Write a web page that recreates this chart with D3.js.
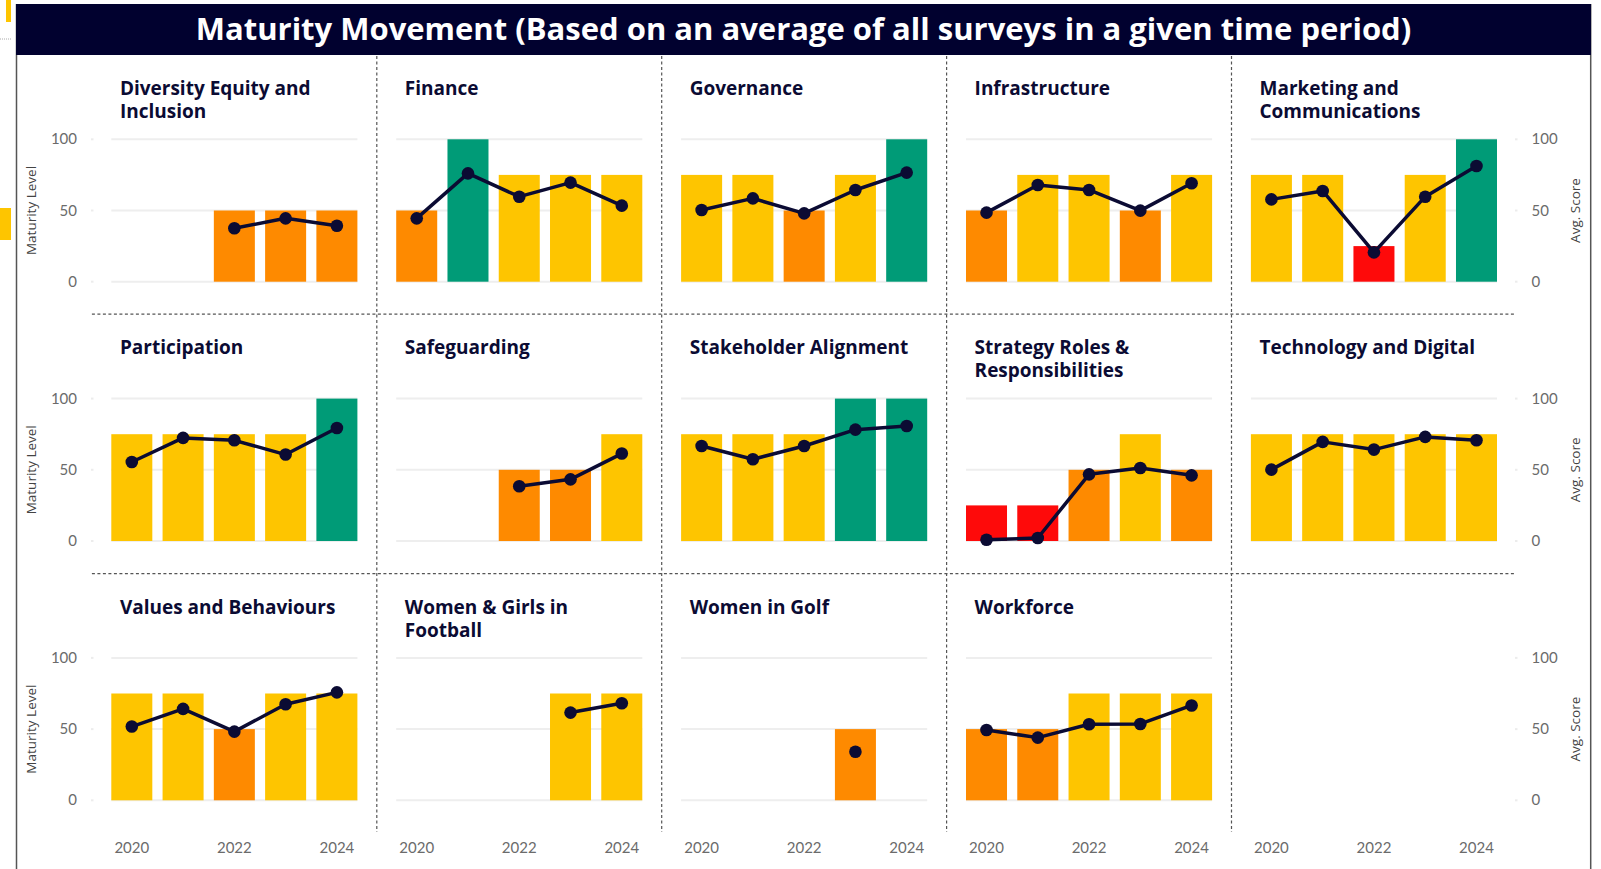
<!DOCTYPE html>
<html>
<head>
<meta charset="utf-8">
<script src="https://cdn.jsdelivr.net/npm/d3@7"></script>
<style>
  html, body { margin: 0; padding: 0; background: #ffffff; }
  svg { display: block; }
</style>
</head>
<body>
<script>
// Survey periods shown on every panel
const years = [2020, 2021, 2022, 2023, 2024];

// One small multiple per area
const categories = [
  "Diversity Equity and Inclusion", "Finance", "Governance", "Infrastructure",
  "Marketing and Communications", "Participation", "Safeguarding",
  "Stakeholder Alignment", "Strategy Roles & Responsibilities",
  "Technology and Digital", "Values and Behaviours",
  "Women & Girls in Football", "Women in Golf", "Workforce"
];

// Maturity level band reached in each year (bars); null = no surveys
const maturityLevel = [
  [null, null, 50, 50, 50],
  [50, 100, 75, 75, 75],
  [75, 75, 50, 75, 100],
  [50, 75, 75, 50, 75],
  [75, 75, 25, 75, 100],
  [75, 75, 75, 75, 100],
  [null, null, 50, 50, 75],
  [75, 75, 75, 100, 100],
  [25, 25, 50, 75, 50],
  [75, 75, 75, 75, 75],
  [75, 75, 50, 75, 75],
  [null, null, null, 75, 75],
  [null, null, null, 50, null],
  [50, 50, 75, 75, 75]
];

// Average survey score in each year (line)
const avgScore = [
  [null, null, 37.5, 44.5, 39.3],
  [44.5, 76.1, 59.7, 69.6, 53.4],
  [50.4, 58.5, 48.0, 64.4, 76.6],
  [48.5, 67.9, 64.4, 49.9, 69.1],
  [57.8, 63.7, 20.6, 59.7, 81.3],
  [55.5, 72.4, 70.7, 60.7, 79.4],
  [null, null, 38.4, 43.3, 61.4],
  [66.7, 57.4, 66.7, 78.2, 80.8],
  [0.9, 2.1, 46.8, 51.3, 46.1],
  [50.1, 69.6, 64.2, 73.1, 70.7],
  [51.8, 64.2, 48.2, 67.5, 75.8],
  [null, null, null, 61.6, 68.2],
  [null, null, null, 34.1, null],
  [49.4, 44.0, 53.4, 53.6, 66.6]
];

const yTicks = [0, 50, 100];
const xTickYears = [2020, 2022, 2024];

const chartTitle = "Maturity Movement (Based on an average of all surveys in a given time period)";
const leftAxisTitle = "Maturity Level";
const rightAxisTitle = "Avg. Score";

// ---- layout ----
const W = 1601, H = 869;
const nCols = 5, nRows = 3;
const gridX0 = 91.9, cellW = 284.9, cellPad = 19.4;
const rowPitch = 259.3;
const plotTop0 = 139.3, plotBottom0 = 281.7;   // y of 100 and 0 in the first row
const headFont = "'Open Sans', 'Noto Sans', sans-serif";
const tickFont = "Lato, 'Open Sans', sans-serif";

const levelColor = d3.scaleOrdinal()
  .domain([25, 50, 75, 100])
  .range(["#fe0a0a", "#fe8a00", "#fec500", "#009b77"]);

const ink = "#0b0b33";
const tickColor = "#6b6b6b";

const svg = d3.select("body").append("svg")
  .attr("width", W).attr("height", H)
  .style("font-family", headFont);

// page furniture at the left edge
svg.append("rect").attr("x", 6).attr("y", 0).attr("width", 5).attr("height", 22).attr("fill", "#fec500");
svg.append("line").attr("x1", 0).attr("x2", 11).attr("y1", 39).attr("y2", 39)
  .attr("stroke", "#aaaaaa").attr("stroke-dasharray", "1,1");
svg.append("rect").attr("x", 0).attr("y", 208).attr("width", 11).attr("height", 32).attr("fill", "#fec500");

// visual frame
svg.append("line").attr("x1", 16.5).attr("x2", 16.5).attr("y1", 4).attr("y2", H)
  .attr("stroke", "#555555").attr("stroke-width", 1.5);
svg.append("line").attr("x1", 1590.7).attr("x2", 1590.7).attr("y1", 4).attr("y2", H)
  .attr("stroke", "#555555").attr("stroke-width", 1.5);

// title bar
svg.append("rect").attr("x", 16).attr("y", 4).attr("width", 1575).attr("height", 51)
  .attr("fill", "#01012f");
svg.append("text")
  .attr("x", 803.5).attr("y", 39.5)
  .attr("text-anchor", "middle")
  .attr("fill", "#ffffff")
  .attr("font-weight", 700)
  .attr("font-size", 31)
  .text(chartTitle);

// shared scales
const y = d3.scaleLinear().domain([0, 100]).range([plotBottom0, plotTop0]);

// dashed cell dividers
const dividers = svg.append("g")
  .attr("stroke", "#555555").attr("stroke-width", 1.2).attr("stroke-dasharray", "3,2.5");
d3.range(1, nCols).forEach(c => {
  const x = gridX0 + c * cellW;
  dividers.append("line").attr("x1", x).attr("x2", x).attr("y1", 56).attr("y2", 832);
});
d3.range(1, nRows).forEach(r => {
  const yy = 314.2 + (r - 1) * 259.5;
  dividers.append("line").attr("x1", gridX0).attr("x2", gridX0 + nCols * cellW).attr("y1", yy).attr("y2", yy);
});

// wrap a title into lines no wider than maxW
function wrapTitle(textSel, str, maxW, lineH) {
  const words = str.split(" ");
  let line = [];
  let tspan = textSel.append("tspan").attr("x", textSel.attr("x")).attr("dy", 0);
  words.forEach(w => {
    line.push(w);
    tspan.text(line.join(" "));
    if (tspan.node().getComputedTextLength() > maxW && line.length > 1) {
      line.pop();
      tspan.text(line.join(" "));
      line = [w];
      tspan = textSel.append("tspan").attr("x", textSel.attr("x")).attr("dy", lineH).text(w);
    }
  });
}

// x axis labels under the bottom row
const xAxisG = svg.append("g").attr("font-family", tickFont);
for (let c = 0; c < nCols; c++) {
  const cellX = gridX0 + c * cellW;
  const x = d3.scaleBand().domain(years)
    .range([cellX + cellPad, cellX + cellW - cellPad])
    .paddingInner(0.2).paddingOuter(0);
  xTickYears.forEach(yr => {
    xAxisG.append("text").attr("x", x(yr) + x.bandwidth() / 2).attr("y", 853)
      .attr("text-anchor", "middle").attr("fill", tickColor).attr("font-size", 15)
      .text(yr);
  });
}

for (let r = 0; r < nRows; r++) {
  const rowG = svg.append("g").attr("transform", `translate(0,${r * rowPitch})`);

  // left axis (first column)
  yTicks.forEach(t => {
    rowG.append("text").attr("x", 77).attr("y", y(t) + 5)
      .attr("text-anchor", "end").attr("fill", tickColor).attr("font-size", 15)
      .attr("font-family", tickFont)
      .text(t);
    rowG.append("line").attr("x1", 91).attr("x2", 93.5).attr("y1", y(t)).attr("y2", y(t))
      .attr("stroke", "#ececec").attr("stroke-width", 2);
  });
  rowG.append("text")
    .attr("transform", `translate(36,${(y(0) + y(100)) / 2}) rotate(-90)`)
    .attr("text-anchor", "middle").attr("fill", "#444444").attr("font-size", 13.5)
    .text(leftAxisTitle);

  // right axis (last column)
  yTicks.forEach(t => {
    rowG.append("text").attr("x", 1531.5).attr("y", y(t) + 5)
      .attr("text-anchor", "start").attr("fill", tickColor).attr("font-size", 15)
      .attr("font-family", tickFont)
      .text(t);
    rowG.append("line").attr("x1", 1515).attr("x2", 1517.5).attr("y1", y(t)).attr("y2", y(t))
      .attr("stroke", "#ececec").attr("stroke-width", 2);
  });
  rowG.append("text")
    .attr("transform", `translate(1580,${(y(0) + y(100)) / 2}) rotate(-90)`)
    .attr("text-anchor", "middle").attr("fill", "#444444").attr("font-size", 13.5)
    .text(rightAxisTitle);

  for (let c = 0; c < nCols; c++) {
    const i = r * nCols + c;
    if (i >= categories.length) continue;
    const cellX = gridX0 + c * cellW;
    const x = d3.scaleBand().domain(years)
      .range([cellX + cellPad, cellX + cellW - cellPad])
      .paddingInner(0.2).paddingOuter(0);

    const g = rowG.append("g");

    // panel title
    const title = g.append("text").attr("x", cellX + 28).attr("y", 95)
      .attr("fill", ink).attr("font-weight", 700).attr("font-size", 19);
    wrapTitle(title, categories[i], 236, 23);

    // gridlines
    g.append("g").selectAll("line").data(yTicks).join("line")
      .attr("x1", x.range()[0]).attr("x2", x.range()[1])
      .attr("y1", d => y(d)).attr("y2", d => y(d))
      .attr("stroke", "#eeeeee").attr("stroke-width", 2);

    const rows = years.map((yr, k) => ({ yr, level: maturityLevel[i][k], score: avgScore[i][k] }));

    // maturity bars
    g.append("g").selectAll("rect").data(rows.filter(d => d.level != null)).join("rect")
      .attr("x", d => x(d.yr)).attr("width", x.bandwidth())
      .attr("y", d => y(d.level)).attr("height", d => y(0) - y(d.level))
      .attr("fill", d => levelColor(d.level));

    // average score line and markers
    const pts = rows.filter(d => d.score != null);
    const line = d3.line().x(d => x(d.yr) + x.bandwidth() / 2).y(d => y(d.score));
    g.append("path").datum(pts).attr("d", line)
      .attr("fill", "none").attr("stroke", ink).attr("stroke-width", 3.5)
      .attr("stroke-linejoin", "round");
    g.append("g").selectAll("circle").data(pts).join("circle")
      .attr("cx", d => x(d.yr) + x.bandwidth() / 2).attr("cy", d => y(d.score))
      .attr("r", 6.3).attr("fill", ink);
  }
}
</script>
</body>
</html>
